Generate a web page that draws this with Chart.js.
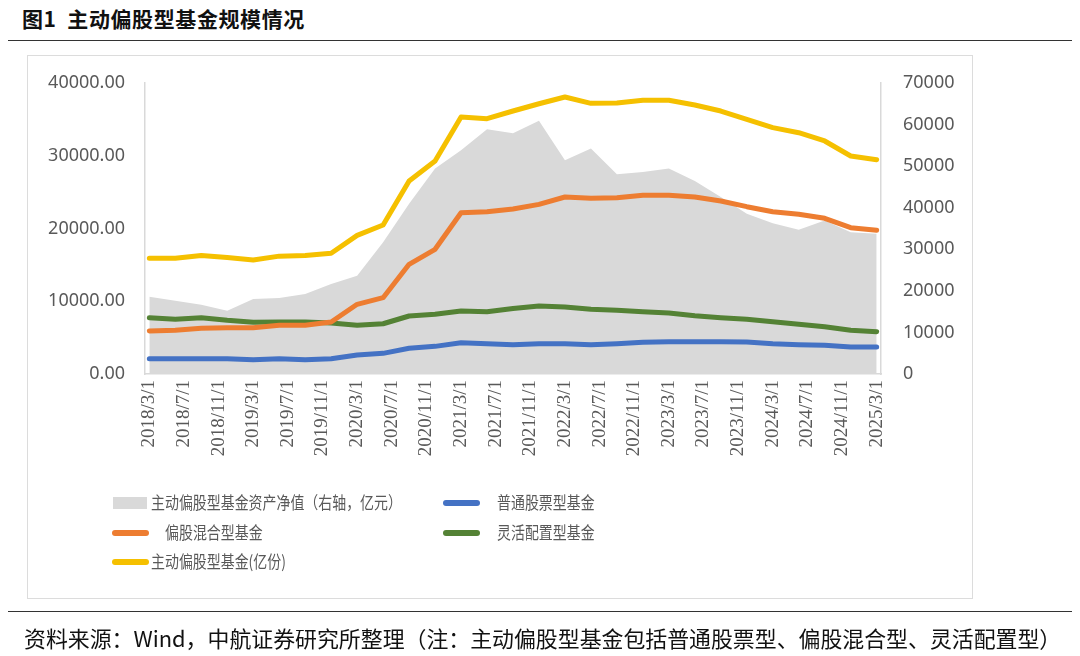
<!DOCTYPE html>
<html>
<head>
<meta charset="utf-8">
<script src="https://cdn.jsdelivr.net/npm/chart.js@4.4.0/dist/chart.umd.min.js"></script>
<style>
  body { margin: 0; background: #fff; width: 1080px; height: 656px; overflow: hidden; position: relative; font-family: "Noto Sans CJK SC", sans-serif; }
  #title { position: absolute; left: 22px; top: 3px; font-size: 21px; font-weight: bold; color: #111; white-space: pre; letter-spacing: 0.6px; }
  #topline { position: absolute; left: 8px; top: 40px; width: 1064px; height: 0; border-top: 1.5px solid #333; }
  #frame { position: absolute; left: 27px; top: 55px; width: 944px; height: 542px; border: 1.5px solid #dcdcdc; }
  #bottomline { position: absolute; left: 8px; top: 611px; width: 1064px; height: 0; border-top: 1.5px solid #333; }
  #source { position: absolute; left: 24px; top: 621px; font-size: 22px; color: #111; white-space: nowrap; transform: scaleX(0.995); transform-origin: left center; }
  #c { position: absolute; left: 0; top: 0; }
  .sw { position: absolute; }
  .tx { position: absolute; font-size: 17px; line-height: 20px; color: #595959; white-space: pre; transform: scaleX(0.82); transform-origin: left center; }
</style>
</head>
<body>
<div id="title">图1  主动偏股型基金规模情况</div>
<div id="topline"></div>
<div id="frame"></div>
<canvas id="c" width="1080" height="656"></canvas>
<div id="legend"></div>
<div id="bottomline"></div>
<div id="source">资料来源：Wind，中航证券研究所整理（注：主动偏股型基金包括普通股票型、偏股混合型、灵活配置型）</div>
<script>
// quarterly observations
var quarters = ['2018/3','2018/6','2018/9','2018/12','2019/3','2019/6','2019/9','2019/12',
  '2020/3','2020/6','2020/9','2020/12','2021/3','2021/6','2021/9','2021/12',
  '2022/3','2022/6','2022/9','2022/12','2023/3','2023/6','2023/9','2023/12',
  '2024/3','2024/6','2024/9','2024/12','2025/3'];

var xTickLabels = ['2018/3/1','2018/7/1','2018/11/1','2019/3/1','2019/7/1','2019/11/1',
  '2020/3/1','2020/7/1','2020/11/1','2021/3/1','2021/7/1','2021/11/1','2022/3/1','2022/7/1',
  '2022/11/1','2023/3/1','2023/7/1','2023/11/1','2024/3/1','2024/7/1','2024/11/1','2025/3/1'];

var leftTicks = [0, 10000, 20000, 30000, 40000];
var rightTicks = [0, 10000, 20000, 30000, 40000, 50000, 60000, 70000];

// 主动偏股型基金资产净值（右轴，亿元）
var netAsset = [18590, 17620, 16650, 15200, 18030, 18270, 19240, 21650, 23650, 31690, 40960, 49410,
  53830, 58900, 57900, 60900, 51410, 54230, 48030, 48590, 49410, 46420, 42560, 38550,
  36280, 34680, 36930, 34110, 33720];
// 普通股票型基金
var stockFund = [2110, 2110, 2110, 2110, 1970, 2110, 1970, 2110, 2610, 2840, 3530, 3800,
  4300, 4170, 4030, 4170, 4170, 4030, 4170, 4350, 4440, 4440, 4440, 4400,
  4170, 4030, 3940, 3710, 3710];
// 偏股混合型基金
var mixedFund = [5910, 6000, 6280, 6370, 6370, 6690, 6690, 7150, 9580, 10490, 15080, 17140,
  22170, 22310, 22680, 23320, 24330, 24150, 24240, 24560, 24560, 24330, 23780, 23000,
  22310, 21950, 21400, 20110, 19750];
// 灵活配置型基金
var flexFund = [7740, 7520, 7740, 7380, 7100, 7150, 7150, 7010, 6690, 6910, 7970, 8200,
  8660, 8560, 9000, 9350, 9210, 8890, 8750, 8560, 8380, 8010, 7740, 7520,
  7190, 6830, 6500, 6000, 5810];
// 主动偏股型基金(亿份)
var totalShares = [15900, 15900, 16300, 16000, 15670, 16200, 16300, 16600, 19060, 20480, 26530, 29280,
  35330, 35100, 36150, 37150, 38080, 37200, 37250, 37620, 37620, 36980, 36150, 35010,
  33860, 33170, 32030, 29970, 29460];

var colors = { area: '#d9d9d9', blue: '#4472c4', orange: '#ed7d31', green: '#548235', yellow: '#f5c000' };

function monthIdx(s) {
  var p = s.split('/');
  return (parseInt(p[0]) - 2018) * 12 + parseInt(p[1]) - 3;
}
function pts(arr) {
  return arr.map(function(v, i) { return { x: monthIdx(quarters[i]), y: v }; });
}

function lineSet(label, data, color) {
  return { label: label, data: pts(data), borderColor: color, backgroundColor: color, borderWidth: 5,
    pointRadius: 0, tension: 0, fill: false, borderCapStyle: 'round', borderJoinStyle: 'round', yAxisID: 'y' };
}

var axisFont = { family: 'Noto Sans', size: 18 };

new Chart(document.getElementById('c'), {
  type: 'line',
  data: {
    datasets: [
      lineSet('主动偏股型基金(亿份)', totalShares, colors.yellow),
      lineSet('偏股混合型基金', mixedFund, colors.orange),
      lineSet('灵活配置型基金', flexFund, colors.green),
      lineSet('普通股票型基金', stockFund, colors.blue),
      { label: '主动偏股型基金资产净值（右轴，亿元）', data: pts(netAsset), yAxisID: 'y1',
        borderWidth: 0, pointRadius: 0, tension: 0, fill: 'origin', backgroundColor: colors.area, borderColor: colors.area }
    ]
  },
  options: {
    responsive: false,
    animation: false,
    layout: { padding: { top: 83, left: 0, right: 0, bottom: 0 } },
    plugins: { legend: { display: false }, tooltip: { enabled: false } },
    scales: {
      x: {
        type: 'linear', min: -0.5, max: 84.5,
        afterBuildTicks: function(s) { s.ticks = xTickLabels.map(function(t) { return { value: monthIdx(t) }; }); },
        afterFit: function(s) { s.height = 656 - 374; },
        ticks: {
          autoSkip: false, minRotation: 90, maxRotation: 90, padding: 6, color: '#595959',
          font: { family: 'Liberation Serif', size: 19 },
          callback: function(v) { return xTickLabels.find(function(t) { return monthIdx(t) === v; }); }
        },
        grid: { drawOnChartArea: false, drawTicks: false },
        border: { color: '#d9d9d9', width: 1.5 }
      },
      y: {
        position: 'left', min: 0, max: 40000,
        afterBuildTicks: function(s) { s.ticks = leftTicks.map(function(v) { return { value: v }; }); },
        afterFit: function(s) { s.width = 145; },
        ticks: { padding: 20, color: '#595959', font: axisFont, callback: function(v) { return v.toFixed(2); } },
        grid: { drawOnChartArea: false, drawTicks: false },
        border: { color: '#d9d9d9', width: 1.5 }
      },
      y1: {
        position: 'right', min: 0, max: 70000,
        afterBuildTicks: function(s) { s.ticks = rightTicks.map(function(v) { return { value: v }; }); },
        afterFit: function(s) { s.width = 1080 - 881; },
        ticks: { padding: 22, color: '#595959', font: axisFont, callback: function(v) { return String(v); } },
        grid: { drawOnChartArea: false, drawTicks: false },
        border: { color: '#d9d9d9', width: 1.5 }
      }
    }
  }
});

// legend, two columns like the original
var legendItems = [
  { text: '主动偏股型基金资产净值（右轴，亿元）', color: colors.area, box: true, x: 113, tx: 151, y: 503 },
  { text: '普通股票型基金', color: colors.blue, x: 443, tx: 497, y: 503 },
  { text: '偏股混合型基金', color: colors.orange, x: 112, tx: 165, y: 533 },
  { text: '灵活配置型基金', color: colors.green, x: 443, tx: 497, y: 533 },
  { text: '主动偏股型基金(亿份)', color: colors.yellow, x: 112, tx: 151, y: 562 }
];
var lg = document.getElementById('legend');
legendItems.forEach(function(it) {
  var sw = document.createElement('div');
  sw.className = 'sw';
  sw.style.background = it.color;
  if (it.box) {
    sw.style.left = it.x + 'px'; sw.style.top = (it.y - 6) + 'px';
    sw.style.width = '34px'; sw.style.height = '12px';
  } else {
    sw.style.left = it.x + 'px'; sw.style.top = (it.y - 3) + 'px';
    sw.style.width = '37px'; sw.style.height = '6px'; sw.style.borderRadius = '3px';
  }
  lg.appendChild(sw);
  var tx = document.createElement('div');
  tx.className = 'tx';
  tx.style.left = it.tx + 'px'; tx.style.top = (it.y - 11) + 'px';
  tx.textContent = it.text;
  lg.appendChild(tx);
});
</script>
</body>
</html>
